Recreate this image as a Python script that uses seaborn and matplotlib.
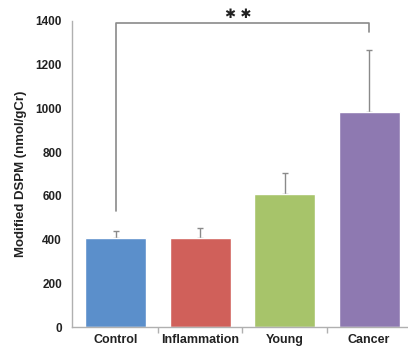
import matplotlib
matplotlib.use("Agg")
from matplotlib import pyplot as plt
import seaborn as sns
import pandas as pd

# group means and upper SD
groups = ["Control", "Inflammation", "Young", "Cancer"]
means = [405, 405, 610, 985]
upper_err = [35, 50, 95, 280]
colors = ["#5B8FCB", "#D0605A", "#A7C46A", "#8E79B1"]

# significance bracket between Control and Cancer
bracket_left = 530
bracket_top = 1390
bracket_right = 1350
sig_text = "✱ ✱"

sns.set_style("white")
plt.rcParams["font.family"] = ["Liberation Sans", "DejaVu Sans"]

df = pd.DataFrame({"group": groups, "value": means})

fig = plt.figure(figsize=(4.08, 3.48), dpi=100)
ax = fig.add_axes([0.176, 0.0603, 0.822, 0.8794])

sns.barplot(data=df, x="group", y="value", hue="group", palette=colors,
            width=0.72, saturation=1, errorbar=None, legend=False, ax=ax,
            zorder=2)

ax.errorbar(range(len(groups)), means, yerr=[[0] * len(groups), upper_err],
            fmt="none", ecolor="#8a8a8a", elinewidth=1, capsize=2.5,
            capthick=1, zorder=1)

# bracket
ax.plot([0, 0, 3, 3], [bracket_left, bracket_top, bracket_top, bracket_right],
        color="#8a8a8a", lw=1.2, zorder=3, clip_on=False)
ax.text(1.45, bracket_top + 12, sig_text, ha="center", va="bottom",
        fontsize=9.5, color="#222222", family=["DejaVu Sans"])

ax.set_ylim(0, 1400)
ax.set_xlim(-0.52, 3.45)
ax.set_yticks(range(0, 1401, 200))
ax.set_xticks([0.5, 1.5, 2.5], minor=True)
ax.set_xticks(range(len(groups)))
ax.set_xticklabels(groups)

for s in ["top", "right"]:
    ax.spines[s].set_visible(False)
for s in ["left", "bottom"]:
    ax.spines[s].set_color("#b0b0b0")
    ax.spines[s].set_linewidth(1)

ax.tick_params(axis="y", which="major", direction="out", length=4, width=1,
               color="#b0b0b0", labelsize=8.5, labelcolor="#222222", pad=3)
ax.tick_params(axis="x", which="major", length=0, labelsize=9,
               labelcolor="#222222", pad=5)
ax.tick_params(axis="x", which="minor", direction="out", length=4, width=1,
               color="#b0b0b0", bottom=True)
for lab in ax.get_xticklabels() + ax.get_yticklabels():
    lab.set_fontweight("bold")

ax.set_xlabel("")
ax.set_ylabel("Modified DSPM (nmol/gCr)", fontsize=9.5, fontweight="bold",
              color="#222222", labelpad=6)

fig.savefig("out.png", dpi=100)
